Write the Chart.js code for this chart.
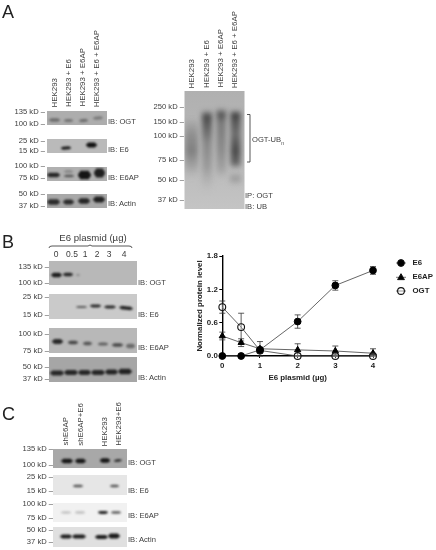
<!DOCTYPE html>
<html><head><meta charset="utf-8">
<style>
html,body{margin:0;padding:0;background:#fff;width:436px;height:550px;overflow:hidden}
#wrap{position:relative;width:436px;height:550px}
canvas{position:absolute;left:0;top:0}
.t{position:absolute;font-family:"Liberation Sans",Arial,sans-serif;font-size:7.6px;color:#3c3c3c;white-space:nowrap;line-height:10px;filter:blur(.25px)}
.v{writing-mode:vertical-rl;transform:rotate(180deg);width:10px;font-size:7.9px}
</style>
<script src="https://cdn.jsdelivr.net/npm/chart.js@4"></script>
</head><body><div id="wrap"><canvas id="c" width="436" height="550"></canvas></div>
<script>
// ---- chart data ----
const doses = [0, 0.5, 1, 2, 3, 4];
const seriesNames = ["E6", "E6AP", "OGT"];
const e6Values   = [0, 0, 0.11, 0.62, 1.27, 1.54];
const e6Errors   = [0, 0, 0.05, 0.12, 0.085, 0.07];
const e6apValues = [0.36, 0.24, 0.13, 0.11, 0.09, 0.05];
const e6apErrors = [0.07, 0.07, 0.13, 0.11, 0.09, 0.08];
const ogtValues  = [0.88, 0.52, 0.10, 0, 0, 0];
const ogtErrors  = [0.11, 0.25, 0.05, 0, 0.03, 0.03];
const yTicks = [0, 0.6, 1.2, 1.8];
const xTicks = [0, 1, 2, 3, 4];
const xTitle = "E6 plasmid (µg)";
const yTitle = "Normalized protein level";

// ---- figure text ----
const laneA = ["HEK293", "HEK293 + E6", "HEK293 + E6AP", "HEK293 + E6 + E6AP"];
const laneB = ["0", "0.5", "1", "2", "3", "4"];
const laneC = ["shE6AP", "shE6AP+E6", "HEK293", "HEK293+E6"];

const wrap = document.getElementById('wrap');
function T(s, x, y, o) {
  o = o || {};
  const e = document.createElement('div');
  e.className = 't';
  if (o.html) e.innerHTML = s; else e.textContent = s;
  if (o.right) e.style.right = (436 - x) + 'px'; else e.style.left = x + 'px';
  e.style.top = (y - 5) + 'px';
  if (o.center) e.style.transform = 'translateX(-50%)';
  if (o.size) { e.style.fontSize = o.size + 'px'; }
  if (o.color) e.style.color = o.color;
  wrap.appendChild(e);
}
function V(s, x, bottom) {
  const e = document.createElement('div');
  e.className = 't v';
  e.textContent = s;
  e.style.left = (x - 5) + 'px';
  e.style.bottom = (550 - bottom) + 'px';
  wrap.appendChild(e);
}
function kd(v, y, x) { T(v + ' kD –', x, y, {right: true}); }

// Panel letters
T('A', 2, 12, {size: 18, color: '#222'});
T('B', 2, 242, {size: 18, color: '#222'});
T('C', 2, 414, {size: 18, color: '#222'});

// A left
[55, 69, 83, 97].forEach((x, i) => V(laneA[i], x, 107));
[['135',112],['100',123.5],['25',141],['15',151],['100',166],['75',178],['50',194],['37',206]].forEach(a => kd(a[0], a[1], 45));
[['IB: OGT',122],['IB: E6',150],['IB: E6AP',178],['IB: Actin',204]].forEach(a => T(a[0], 108, a[1]));
// A right
[192, 206.5, 220.5, 234.5].forEach((x, i) => V(laneA[i], x, 88));
[['250',107],['150',122],['100',136],['75',160],['50',180],['37',199.5]].forEach(a => kd(a[0], a[1], 184));
T('OGT-UB<sub style="font-size:5px;line-height:0">n</sub>', 252, 140, {html: true});
T('IP: OGT', 245, 196);
T('IB: UB', 245, 207);

// B
T('E6 plasmid (µg)', 93, 238, {center: true, size: 9.6});
[56, 72, 85, 97, 109, 124].forEach((x, i) => T(laneB[i], x, 254, {center: true, size: 8.5}));
[['135',267],['100',283],['25',297],['15',315],['100',334],['75',351],['50',367],['37',379]].forEach(a => kd(a[0], a[1], 49));
[['IB: OGT',283],['IB: E6',315],['IB: E6AP',348],['IB: Actin',378]].forEach(a => T(a[0], 138, a[1]));

// C
[66, 81, 105, 119].forEach((x, i) => V(laneC[i], x, 446));
[['135',449],['100',465],['25',477],['15',491],['100',504],['75',518],['50',530],['37',542]].forEach(a => kd(a[0], a[1], 53));
[['IB: OGT',463],['IB: E6',491],['IB: E6AP',516],['IB: Actin',540]].forEach(a => T(a[0], 128, a[1]));

// ---- blot artwork (decorative panels behind the chart) ----
function drawBlots(ctx) {
  function panel(x, y, w, h, c) { ctx.fillStyle = c; ctx.fillRect(x, y, w, h); }
  function band(x0, x1, y, h, c, tilt, blur) {
    ctx.save();
    ctx.filter = 'blur(' + (blur === undefined ? 0.8 : blur) + 'px)';
    ctx.fillStyle = c;
    const cx = (x0 + x1) / 2, cy = y;
    ctx.translate(cx, cy);
    ctx.rotate(tilt || 0);
    ctx.beginPath();
    ctx.ellipse(0, 0, (x1 - x0) / 2, h / 2, 0, 0, Math.PI * 2);
    ctx.rect(-(x1 - x0) / 2 + 2, -h / 2, x1 - x0 - 4, h);
    ctx.fill();
    ctx.restore();
  }
  function clip(x, y, w, h, fn) { ctx.save(); ctx.beginPath(); ctx.rect(x, y, w, h); ctx.clip(); fn(); ctx.restore(); }

  // A left: OGT
  panel(47, 111, 60, 14, '#adadad');
  clip(47, 111, 60, 14, () => {
    band(49, 60, 120, 3.4, '#6c6c6c');
    band(64, 73, 120.5, 3, '#727272');
    band(79, 88, 120.5, 3, '#6c6c6c', -0.08);
    band(93, 103, 118, 3, '#787878', -0.1);
  });
  // A left: E6
  panel(47, 139, 60, 14, '#bababa');
  clip(47, 139, 60, 14, () => {
    band(61, 71, 148, 3, '#181818', -0.06);
    band(86, 97, 145, 5, '#111');
  });
  // A left: E6AP
  panel(47, 167, 60, 14, '#b0b0b0');
  clip(47, 167, 60, 14, () => {
    band(47, 60, 175, 4.6, '#262626');
    band(64, 73, 171.5, 3, '#8a8a8a');
    band(64, 74, 176, 2.4, '#555');
    band(78, 91, 175, 8.5, '#141414');
    band(94, 105, 173, 9, '#1e1e1e');
  });
  // A left: Actin
  panel(47, 194, 60, 14, '#a8a8a8');
  clip(47, 194, 60, 14, () => {
    band(47, 60, 202, 5.6, '#2c2c2c');
    band(63, 74, 202, 5, '#2c2c2c');
    band(78, 90, 201, 5.6, '#262626');
    band(93, 105, 199.5, 6, '#202020');
  });

  // A right: smear blot
  const bg = ctx.createLinearGradient(0, 91, 0, 209);
  bg.addColorStop(0, '#b0b0b0'); bg.addColorStop(.5, '#b8b8b8'); bg.addColorStop(1, '#c4c4c4');
  ctx.fillStyle = bg; ctx.fillRect(184.5, 91, 60, 118);
  function smear(x0, x1, y0, y1, stops) {
    ctx.save();
    ctx.filter = 'blur(2.6px)';
    const g = ctx.createLinearGradient(0, y0, 0, y1);
    stops.forEach(s => g.addColorStop(s[0], s[1]));
    ctx.fillStyle = g;
    ctx.fillRect(x0, y0, x1 - x0, y1 - y0);
    ctx.restore();
  }
  clip(184.5, 91, 60, 118, () => {
    smear(185, 198, 118, 178, [[0,'rgba(130,130,130,0)'],[.3,'#8e8e8e'],[.55,'#808080'],[.8,'#a2a2a2'],[1,'rgba(170,170,170,0)']]);
    smear(202, 212, 110, 192, [[0,'rgba(80,80,80,0)'],[.07,'#484848'],[.18,'#5e5e5e'],[.4,'#888'],[.7,'#9c9c9c'],[1,'rgba(175,175,175,0)']]);
    smear(216.5, 226, 108, 180, [[0,'rgba(80,80,80,0)'],[.08,'#4e4e4e'],[.2,'#7a7a7a'],[.6,'#8c8c8c'],[.85,'#a2a2a2'],[1,'rgba(175,175,175,0)']]);
    smear(230.5, 240.5, 110, 170, [[0,'rgba(60,60,60,0)'],[.07,'#3e3e3e'],[.2,'#585858'],[.4,'#6e6e6e'],[.68,'#4a4a4a'],[.9,'#686868'],[1,'rgba(170,170,170,0)']]);
    smear(230, 241, 172, 186, [[0,'rgba(140,140,140,0)'],[.5,'#999'],[1,'rgba(170,170,170,0)']]);
  });
  // A right bracket
  ctx.strokeStyle = '#444'; ctx.lineWidth = 0.9;
  ctx.beginPath(); ctx.moveTo(247, 114.5); ctx.lineTo(250, 114.5); ctx.lineTo(250, 162); ctx.lineTo(247, 162); ctx.stroke();

  // B header bracket
  ctx.beginPath(); ctx.moveTo(49, 248); ctx.quadraticCurveTo(49, 246, 52, 246); ctx.lineTo(88, 246); ctx.lineTo(90, 245); ctx.lineTo(92, 246);
  ctx.lineTo(129, 246); ctx.quadraticCurveTo(132, 246, 132, 248); ctx.stroke();

  // B: OGT
  panel(49, 261, 88, 24, '#b8b8b8');
  clip(49, 261, 88, 24, () => {
    band(51, 62, 275, 4.4, '#1c1c1c');
    band(63, 73, 274.5, 3.4, '#252525');
    band(76, 80, 275, 1.8, '#8c8c8c');
  });
  // B: E6
  panel(49, 294, 88, 25, '#cacaca');
  clip(49, 294, 88, 25, () => {
    band(76, 87, 307, 2, '#5a5a5a');
    band(90, 101, 306, 2.8, '#2a2a2a');
    band(104, 116, 307, 3, '#2a2a2a');
    band(119, 133, 308, 3.6, '#222', 0.1);
  });
  // B: E6AP
  panel(49, 328, 88, 25, '#b8b8b8');
  clip(49, 328, 88, 25, () => {
    band(52, 63, 341.5, 5, '#2a2a2a');
    band(68, 78, 342.5, 3.4, '#454545');
    band(83, 92, 343.5, 3.4, '#555');
    band(98, 108, 344, 3, '#606060');
    band(112, 123, 345, 3.4, '#4a4a4a');
    band(126, 135, 346, 4.4, '#6a6a6a');
  });
  // B: Actin
  panel(49, 357, 88, 25, '#a6a6a6');
  clip(49, 357, 88, 25, () => {
    band(50, 64, 373, 5, '#262626');
    band(64, 78, 372.5, 5, '#262626');
    band(78, 91, 372.5, 5, '#262626');
    band(91, 105, 372.5, 5, '#262626');
    band(105, 118, 372, 5, '#222');
    band(118, 132, 371.5, 5.6, '#222');
  });

  // C: OGT
  panel(53, 449, 74, 19, '#a8a8a8');
  clip(53, 449, 74, 19, () => {
    band(61, 73, 461, 4.4, '#161616');
    band(75, 86, 461, 4.4, '#161616');
    band(100, 110, 460.5, 4.4, '#161616');
    band(114, 122, 460.5, 2.4, '#2a2a2a', -0.12);
  });
  // C: E6
  panel(53, 475, 74, 20, '#e6e6e6');
  clip(53, 475, 74, 20, () => {
    band(73, 83, 486, 2.5, '#555');
    band(110, 119, 486, 2.5, '#555');
  });
  // C: E6AP
  panel(53, 503, 74, 19, '#f1f1f1');
  clip(53, 503, 74, 19, () => {
    band(61, 71, 512.5, 2.2, '#b8b8b8');
    band(75, 85, 512.5, 2.4, '#bcbcbc');
    band(98, 108, 512.5, 2.8, '#222');
    band(111, 121, 512.5, 2.4, '#555');
  });
  // C: Actin
  panel(53, 527, 74, 20, '#e0e0e0');
  clip(53, 527, 74, 20, () => {
    band(60, 72, 536.5, 4, '#1e1e1e');
    band(72, 86, 536.5, 4, '#1e1e1e');
    band(95, 108, 537, 4, '#1e1e1e');
    band(108, 120, 536, 5, '#1a1a1a');
  });
}

// ---- chart ----
function pts(vals) { return doses.map((d, i) => ({x: d, y: vals[i]})); }
const errs = [e6Errors, e6apErrors, ogtErrors];
const lineGray = '#555';

const blotPlugin = { id: 'blots', beforeDraw(chart) { drawBlots(chart.ctx); } };
const errorBars = {
  id: 'errorBars',
  beforeDatasetsDraw(chart) {
    const ctx = chart.ctx, xs = chart.scales.x, ys = chart.scales.y;
    ctx.save();
    ctx.strokeStyle = '#333'; ctx.lineWidth = 0.8;
    chart.data.datasets.forEach((ds, k) => {
      ds.data.forEach((p, i) => {
        const e = errs[k][i];
        if (!e) return;
        const x = xs.getPixelForValue(p.x);
        const top = ys.getPixelForValue(p.y + e), bot = ys.getPixelForValue(Math.max(0, p.y - e));
        ctx.beginPath();
        ctx.moveTo(x, top); ctx.lineTo(x, bot);
        ctx.moveTo(x - 3, top); ctx.lineTo(x + 3, top);
        ctx.moveTo(x - 3, bot); ctx.lineTo(x + 3, bot);
        ctx.stroke();
      });
    });
    ctx.restore();
  }
};
const legendDraw = {
  id: 'legendDraw',
  afterDraw(chart) {
    const ctx = chart.ctx;
    const rows = [263, 277.3, 291];
    chart.data.datasets.forEach((ds, k) => {
      const y = rows[k];
      ctx.save();
      ctx.strokeStyle = lineGray; ctx.lineWidth = 0.8;
      ctx.beginPath(); ctx.moveTo(396, y); ctx.lineTo(406, y); ctx.stroke();
      ctx.fillStyle = ds.pointBackgroundColor;
      ctx.strokeStyle = '#111'; ctx.lineWidth = ds.pointBorderWidth;
      const r = ds.pointRadius;
      ctx.beginPath();
      if (ds.pointStyle === 'triangle') {
        ctx.moveTo(401, y - r); ctx.lineTo(401 + r * 0.95, y + r * 0.65); ctx.lineTo(401 - r * 0.95, y + r * 0.65); ctx.closePath();
      } else {
        ctx.arc(401, y, r, 0, Math.PI * 2);
      }
      ctx.fill(); ctx.stroke();
      ctx.fillStyle = '#222';
      ctx.font = 'bold 7.8px "Liberation Sans", Arial, sans-serif';
      ctx.textBaseline = 'middle';
      ctx.fillText(seriesNames[k], 412.5, y);
      ctx.restore();
    });
  }
};

const boldFont = { family: '"Liberation Sans", Arial, sans-serif', size: 7.9, weight: 'bold' };
new Chart(document.getElementById('c'), {
  type: 'line',
  data: { datasets: [
    { label: seriesNames[0], data: pts(e6Values), pointStyle: 'circle', pointRadius: 3.4, pointBackgroundColor: '#000', pointBorderColor: '#000', pointBorderWidth: 1, borderColor: lineGray, borderWidth: 0.9, clip: false, order: 0 },
    { label: seriesNames[1], data: pts(e6apValues), pointStyle: 'triangle', pointRadius: 3.6, pointBackgroundColor: '#000', pointBorderColor: '#000', pointBorderWidth: 1, borderColor: lineGray, borderWidth: 0.9, clip: false, order: 2 },
    { label: seriesNames[2], data: pts(ogtValues), pointStyle: 'circle', pointRadius: 3.4, pointBackgroundColor: 'rgba(255,255,255,0.25)', pointBorderColor: '#111', pointBorderWidth: 1.1, borderColor: lineGray, borderWidth: 0.9, clip: false, order: 1 }
  ]},
  plugins: [blotPlugin, errorBars, legendDraw],
  options: {
    responsive: false, animation: false, devicePixelRatio: 1,
    layout: { padding: { left: 194.8, right: 63, top: 256, bottom: 166 } },
    plugins: { legend: { display: false }, tooltip: { enabled: false } },
    elements: { line: { tension: 0 } },
    scales: {
      x: {
        type: 'linear', min: 0, max: 4,
        afterFit(s) { s.height = 28; },
        afterBuildTicks(s) { s.ticks = xTicks.map(v => ({value: v})); },
        border: { color: '#000', width: 1.4 },
        grid: { drawOnChartArea: false, drawTicks: true, tickLength: 2, color: '#000', lineWidth: 1 },
        ticks: { color: '#222', padding: 3.5, maxRotation: 0, font: boldFont },
        title: { display: true, text: xTitle, color: '#222', padding: { top: 0, bottom: 1 }, font: boldFont }
      },
      y: {
        min: 0, max: 1.8,
        afterFit(s) { s.width = 27.5; },
        afterBuildTicks(s) { s.ticks = yTicks.map(v => ({value: v})); },
        border: { color: '#000', width: 1.4 },
        grid: { drawOnChartArea: false, drawTicks: true, tickLength: 3, color: '#000', lineWidth: 1 },
        ticks: { color: '#222', padding: 1.5, callback: v => v.toFixed(1), font: boldFont },
        title: { display: true, text: yTitle, color: '#222', padding: { top: 0, bottom: 0 }, font: boldFont }
      }
    }
  }
});
</script></body></html>
